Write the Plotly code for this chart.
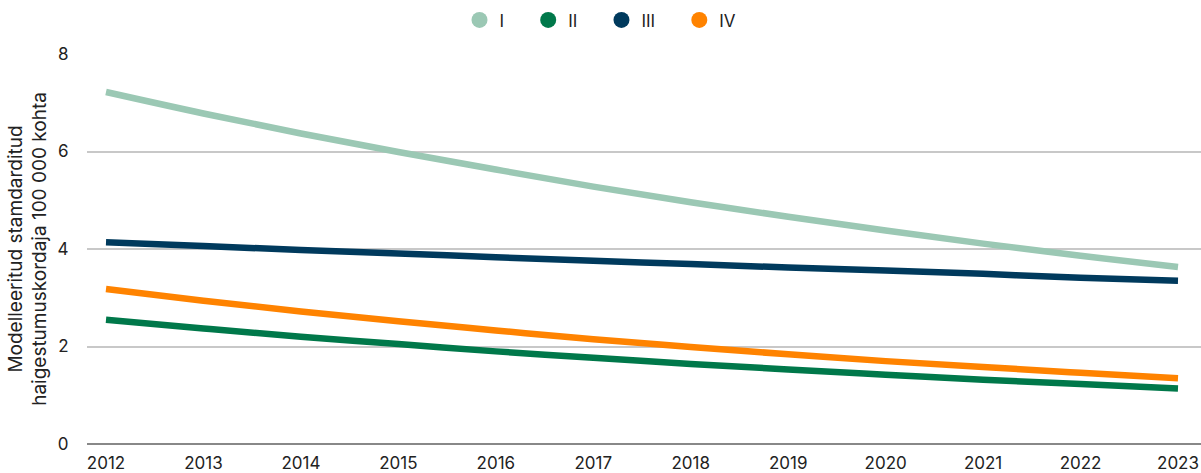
import plotly.graph_objects as go

years = list(range(2012, 2024))
series_names = ["I", "II", "III", "IV"]
vals_I = [7.22, 6.78, 6.37, 5.99, 5.63, 5.28, 4.96, 4.66, 4.38, 4.11, 3.86, 3.63]
vals_II = [2.55, 2.37, 2.20, 2.05, 1.90, 1.77, 1.64, 1.53, 1.42, 1.32, 1.23, 1.14]
vals_III = [4.14, 4.06, 3.98, 3.91, 3.83, 3.76, 3.69, 3.62, 3.56, 3.49, 3.41, 3.35]
vals_IV = [3.18, 2.94, 2.72, 2.52, 2.33, 2.15, 1.99, 1.84, 1.70, 1.58, 1.46, 1.35]
colors = ["#9bc8b4", "#00784a", "#003a5d", "#ff8300"]
y_title = "Modelleeritud stamdarditud<br>haigestumuskordaja 100 000 kohta"

font_family = "Inter, Noto Sans, sans-serif"

fig = go.Figure()
for name, vals, c in zip(series_names, [vals_I, vals_II, vals_III, vals_IV], colors):
    fig.add_trace(go.Scatter(x=years, y=vals, mode="lines", name=name,
                             line=dict(color=c, width=6.5, shape="spline"),
                             showlegend=False, hoverinfo="x+y+name"))
for i, (name, c) in enumerate(zip(series_names, colors)):
    pad = "\u00a0" * 4 if i < len(series_names) - 1 else ""
    fig.add_trace(go.Scatter(x=[None], y=[None], mode="markers", name=name + pad,
                             marker=dict(color=c, size=19, symbol="circle")))

fig.update_layout(
    width=1201, height=473,
    margin=dict(l=87, r=0, t=54, b=27),
    paper_bgcolor="white", plot_bgcolor="white",
    font=dict(family=font_family, size=17, color="#222"),
    legend=dict(orientation="h", x=0.5, xanchor="center", xref="container",
                y=0.995, yanchor="top", yref="container",
                font=dict(size=17), itemwidth=30, traceorder="normal"),
    xaxis=dict(range=[2011.805, 2023.236], tickmode="array", tickvals=years,
               ticktext=[str(y) for y in years], showgrid=False, zeroline=False,
               showline=False, ticks="outside", ticklen=4,
               tickcolor="rgba(0,0,0,0)", tickfont=dict(size=17)),
    yaxis=dict(range=[0, 8], tickvals=[0, 2, 4, 6, 8], showgrid=True,
               gridcolor="#c8c8c8", gridwidth=1.5, zeroline=True,
               zerolinecolor="#888888", zerolinewidth=2, showline=False,
               ticks="outside", ticklen=14, tickcolor="rgba(0,0,0,0)",
               tickfont=dict(size=17),
               title=dict(text=y_title, font=dict(size=19), standoff=5)),
)

fig.write_html("out.html", config={"displayModeBar": False},
               post_script="document.body.style.margin='0';")
